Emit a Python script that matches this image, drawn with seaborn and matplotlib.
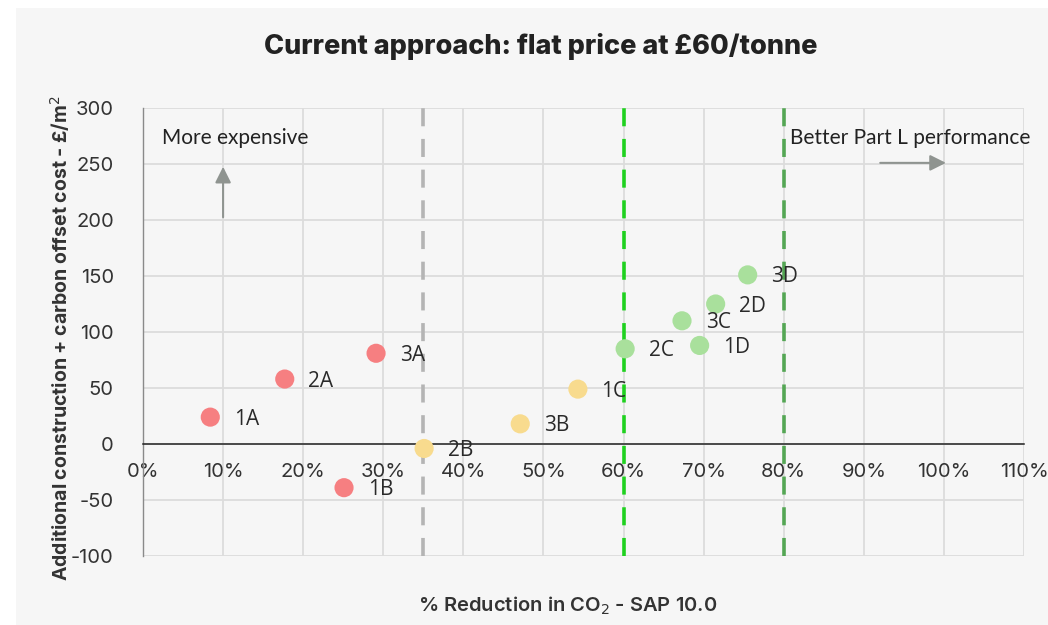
import matplotlib
matplotlib.use("Agg")
import matplotlib.pyplot as plt
import matplotlib.patches as mpatches
from matplotlib.ticker import FuncFormatter
import seaborn as sns
import pandas as pd

# Building specifications and their results
labels = ["1A", "2A", "3A", "1B", "2B", "3B", "1C", "2C", "3C", "1D", "2D", "3D"]
co2_reduction = [0.084, 0.177, 0.291, 0.251, 0.351, 0.471, 0.543, 0.602, 0.673, 0.695, 0.715, 0.755]
extra_cost = [24, 58, 81, -39, -4, 18, 49, 85, 110, 88, 125, 151]
band = ["low", "low", "low", "low", "mid", "mid", "mid", "high", "high", "high", "high", "high"]

band_colors = {"low": "#f67f81", "mid": "#f8db8e", "high": "#a9e09c"}

# Policy thresholds (fraction of CO2 reduction)
thresholds = [0.35, 0.60, 0.80]
threshold_colors = ["#b4b4b4", "#1fd11f", "#54a654"]

x_ticks = [i / 10 for i in range(12)]
y_ticks = [-100, -50, 0, 50, 100, 150, 200, 250, 300]

df = pd.DataFrame({"label": labels, "reduction": co2_reduction,
                   "cost": extra_cost, "band": band})

sns.set_theme(style="white")
plt.rcParams["font.family"] = ["Inter", "DejaVu Sans"]
plt.rcParams["axes.unicode_minus"] = False

fig = plt.figure(figsize=(10.48, 6.25), dpi=100, facecolor="white")
bg = mpatches.Rectangle((16 / 1048, 0), 1, 1 - 8 / 625, transform=fig.transFigure,
                        facecolor="#f6f6f6", edgecolor="none", zorder=-10)
fig.patches.append(bg)

ax = fig.add_axes([143 / 1048, 1 - 556 / 625, (1024 - 143) / 1048, (556 - 108) / 625])
ax.set_facecolor("#f6f6f6")

ax.set_xlim(0, 1.10)
ax.set_ylim(-100, 300)
ax.set_xticks(x_ticks)
ax.set_yticks(y_ticks)
ax.grid(True, color="#dcdcdc", linewidth=1.3, zorder=0)
ax.set_axisbelow(True)

for s in ["top", "right"]:
    ax.spines[s].set_visible(False)
ax.spines["left"].set_color("#8a8a8a")
ax.spines["left"].set_linewidth(1.0)
ax.spines["bottom"].set_position(("data", 0))
ax.spines["bottom"].set_color("#222222")
ax.spines["bottom"].set_linewidth(1.1)

ax.xaxis.set_major_formatter(FuncFormatter(lambda v, p: f"{v * 100:.0f}%"))
ax.tick_params(axis="x", length=0, pad=14, labelsize=14.5, labelcolor="#333333")
ax.tick_params(axis="y", length=0, pad=21, labelsize=14.5, labelcolor="#333333")

for xv, col in zip(thresholds, threshold_colors):
    ax.axvline(xv, color=col, linewidth=2.6, linestyle=(0, (5, 3.5)), zorder=1)

sns.scatterplot(data=df, x="reduction", y="cost", hue="band", palette=band_colors,
                s=190, edgecolor="none", legend=False, ax=ax, zorder=3, clip_on=False)

for lab, xv, yv in zip(labels, co2_reduction, extra_cost):
    ax.annotate(lab, (xv, yv), xytext=(17, -1.5), textcoords="offset points",
                ha="left", va="center", fontsize=15, color="#2a2a2a",
                family=["Open Sans", "DejaVu Sans"], zorder=4)

# Direction hints
ax.annotate("", xy=(0.10, 250), xytext=(0.10, 200),
            arrowprops=dict(arrowstyle="-|>,head_length=0.8,head_width=0.4",
                            color="#8f9490", lw=1.5))
ax.annotate("", xy=(1.006, 251), xytext=(0.917, 251),
            arrowprops=dict(arrowstyle="-|>,head_length=0.8,head_width=0.4",
                            color="#8f9490", lw=1.5))
ax.text(0.024, 273, "More expensive", fontsize=15, color="#222222",
        family=["Lato", "DejaVu Sans"], va="center", ha="left")
ax.text(0.808, 273, "Better Part L performance", fontsize=15, color="#222222",
        family=["Lato", "DejaVu Sans"], va="center", ha="left")

ax.set_xlabel("")
ax.set_ylabel("")
fig.text(541 / 1048, 1 - 46 / 625, "Current approach: flat price at £60/tonne",
         ha="center", va="center", fontsize=19.5, fontweight="heavy", color="#222222")
fig.text(568 / 1048, 1 - 606 / 625, "% Reduction in CO$_2$ - SAP 10.0",
         ha="center", va="center", fontsize=14.5, fontweight="semibold", color="#333333")
fig.text(60 / 1048, 1 - 338 / 625, "Additional construction + carbon offset cost - £/m$^2$",
         ha="center", va="center", rotation=90, fontsize=14, fontweight="bold",
         color="#333333")

fig.savefig("out.png", dpi=100, facecolor=fig.get_facecolor())
